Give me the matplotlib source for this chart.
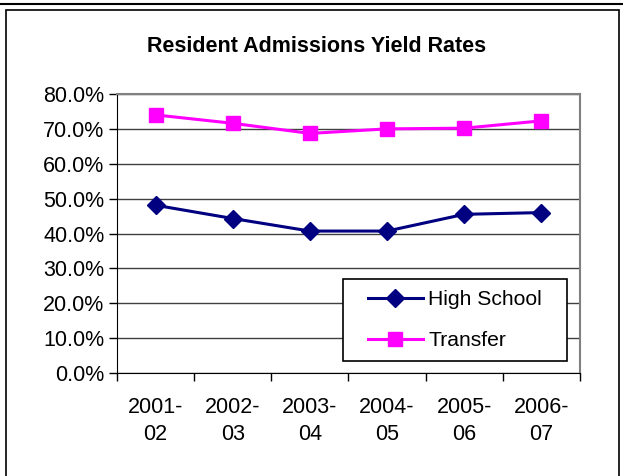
import matplotlib
matplotlib.use("Agg")
import matplotlib.pyplot as plt
from matplotlib.patches import Rectangle
from matplotlib.ticker import FuncFormatter, FixedLocator
import numpy as np

plt.rcParams['font.family'] = ['Liberation Sans', 'DejaVu Sans']

categories = ["2001-\n02", "2002-\n03", "2003-\n04", "2004-\n05", "2005-\n06", "2006-\n07"]
high_school = [48.1, 44.3, 40.7, 40.7, 45.5, 46.0]
transfer = [74.0, 71.6, 68.7, 70.0, 70.2, 72.3]
yticks = [0, 10, 20, 30, 40, 50, 60, 70, 80]

W, H = 623, 476
fig = plt.figure(figsize=(W/100, H/100), dpi=100)
fig.patch.set_facecolor('white')

# outer frames
fig.patches.append(Rectangle((-5/W, (H-4)/H), (W+10)/W, 10/H, transform=fig.transFigure,
                             fill=False, edgecolor='black', linewidth=1.5))
fig.patches.append(Rectangle((6/W, -5/H), (619-6)/W, (H-10+5)/H, transform=fig.transFigure,
                             fill=False, edgecolor='black', linewidth=1.2))

left, right, top, bottom = 117, 580, 94, 373
ax = fig.add_axes([left/W, (H-bottom)/H, (right-left)/W, (bottom-top)/H])

x = np.arange(len(categories))
ax.plot(x, high_school, color='#000080', marker='D', markersize=9, linewidth=2.2,
        label='High School', clip_on=False)
ax.plot(x, transfer, color='#FF00FF', marker='s', markersize=10.5, linewidth=2.2,
        label='Transfer', clip_on=False)

fs = 15.5
ax.set_xlim(-0.5, len(categories)-0.5)
ax.set_ylim(0, 80)
ax.yaxis.set_major_locator(FixedLocator(yticks))
ax.yaxis.set_major_formatter(FuncFormatter(lambda v, p: f"{v:.1f}%"))
ax.set_xticks(x)
ax.set_xticklabels(categories, fontsize=fs, linespacing=1.4)
ax.set_xticks(np.arange(len(categories)+1) - 0.5, minor=True)
ax.tick_params(axis='x', which='major', length=0, pad=17)
ax.tick_params(axis='x', which='minor', length=6, width=1, direction='out', color='black')
ax.tick_params(axis='y', labelsize=fs, length=6, width=1, direction='out', pad=3)
ax.grid(axis='y', color='#404040', linewidth=1)
ax.set_axisbelow(True)
for s in ['top', 'right']:
    ax.spines[s].set_color('#808080')
    ax.spines[s].set_linewidth(1.5)
ax.spines['left'].set_color('black')
ax.spines['bottom'].set_color('black')

fig.text(317/W, (H-47)/H, "Resident Admissions Yield Rates",
         ha='center', va='center', fontsize=15.5, fontweight='bold')

# legend box
lx0, lx1, ly0, ly1 = 343, 567, 279, 361
ax.add_patch(Rectangle((lx0/W, (H-ly1)/H), (lx1-lx0)/W, (ly1-ly0)/H, transform=fig.transFigure,
                       facecolor='white', edgecolor='black', linewidth=1.2, zorder=5,
                       clip_on=False))
leg = ax.legend(loc='upper left', bbox_to_anchor=(368/W, (H-290)/H), bbox_transform=fig.transFigure,
                fontsize=15.2, frameon=False, handlelength=2.6, borderpad=0.0,
                labelspacing=1.05, handletextpad=0.25, borderaxespad=0)
leg.set_zorder(6)

fig.savefig("out.png", dpi=100)
